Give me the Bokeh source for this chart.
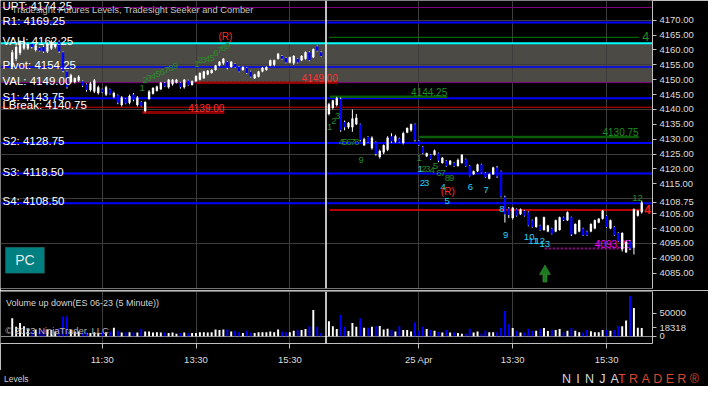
from bokeh.plotting import figure
from bokeh.models import (Range1d, FixedTicker, PrintfTickFormatter, Span, BoxAnnotation,
                          ColumnDataSource, Div)
from bokeh.layouts import column
from bokeh.embed import file_html
from bokeh.resources import INLINE
from bokeh.core.properties import value

FONT = "Liberation Sans"
BG = "#000000"
UP = "#ffffff"
DOWN = "#0000ff"

# ---------------- data ----------------
# day 1 bars (bar slots 1..80), day 2 bars (bar slots 82..162) of ES 06-23, 5 minute
d1_open = [4154.25, 4157.0, 4159.0, 4160.5, 4160.5, 4162.0, 4160.0, 4160.75, 4161.0, 4159.5,
           4160.5, 4161.0, 4162.75, 4159.25, 4152.75, 4149.25, 4149.25, 4149.75, 4149.5, 4148.5,
           4146.5, 4146.0, 4145.5, 4146.75, 4145.0, 4146.75, 4144.25, 4144.75, 4141.5, 4143.5,
           4142.25, 4145.0, 4141.5, 4142.5, 4139.5, 4143.5, 4145.25, 4146.25, 4146.75, 4149.0,
           4147.5, 4148.5, 4149.0, 4149.0, 4147.5, 4149.75, 4148.25, 4149.5, 4150.0, 4150.5,
           4151.75, 4152.25, 4153.25, 4154.75, 4155.5, 4156.0, 4154.25, 4155.25, 4154.25, 4153.25,
           4154.0, 4152.75, 4150.5, 4151.0, 4152.75, 4153.25, 4154.75, 4155.0, 4157.0, 4158.0,
           4157.25, 4155.75, 4155.5, 4157.0, 4156.5, 4157.0, 4159.25, 4157.5, 4161.25, 4159.25]
d1_high = [4160.0, 4161.5, 4163.25, 4163.25, 4162.5, 4162.5, 4162.0, 4161.0, 4161.5, 4162.5,
           4163.25, 4162.5, 4163.25, 4159.5, 4153.0, 4152.0, 4150.75, 4151.5, 4149.75, 4148.75,
           4149.25, 4150.25, 4148.0, 4147.0, 4148.0, 4147.0, 4146.0, 4145.0, 4144.5, 4143.75,
           4145.0, 4145.5, 4144.5, 4142.75, 4142.75, 4146.5, 4147.5, 4148.0, 4149.25, 4149.25,
           4150.25, 4150.25, 4150.25, 4149.25, 4150.25, 4150.0, 4149.75, 4151.5, 4152.5, 4153.0,
           4153.25, 4153.5, 4155.0, 4156.25, 4157.25, 4156.25, 4156.25, 4155.5, 4154.5, 4154.5,
           4154.25, 4153.0, 4152.0, 4153.0, 4154.25, 4154.5, 4156.75, 4156.75, 4159.0, 4158.25,
           4157.5, 4157.75, 4158.25, 4157.25, 4158.25, 4159.5, 4159.5, 4160.5, 4161.5, 4159.5]
d1_low = [4153.5, 4156.25, 4158.25, 4160.0, 4160.0, 4160.5, 4159.5, 4159.5, 4159.0, 4159.0,
          4160.0, 4160.5, 4159.0, 4152.5, 4147.0, 4148.75, 4148.75, 4149.25, 4147.5, 4146.0,
          4146.0, 4145.5, 4145.0, 4145.5, 4144.5, 4145.0, 4143.75, 4141.75, 4141.0, 4141.75,
          4141.75, 4142.75, 4141.0, 4141.0, 4139.0, 4143.25, 4145.0, 4146.0, 4146.5, 4147.5,
          4147.0, 4148.0, 4148.75, 4147.0, 4147.0, 4148.0, 4148.0, 4149.25, 4149.75, 4150.25,
          4151.5, 4152.0, 4153.0, 4154.5, 4155.0, 4153.5, 4154.0, 4154.0, 4152.5, 4153.0,
          4152.0, 4150.75, 4150.25, 4150.75, 4152.5, 4153.0, 4154.5, 4154.5, 4156.75, 4156.75,
          4155.5, 4155.5, 4155.0, 4155.5, 4156.25, 4156.75, 4156.25, 4157.25, 4159.5, 4157.75]
d1_close = [4159.25, 4161.0, 4162.5, 4162.75, 4162.0, 4161.0, 4161.5, 4159.75, 4159.5, 4162.0,
            4162.75, 4162.0, 4159.5, 4153.0, 4147.5, 4151.5, 4150.5, 4151.0, 4148.0, 4146.5,
            4148.75, 4149.75, 4147.5, 4145.75, 4147.5, 4145.25, 4145.5, 4142.25, 4144.0, 4142.0,
            4144.5, 4143.25, 4144.0, 4141.25, 4142.5, 4146.0, 4147.25, 4147.75, 4149.0, 4147.75,
            4150.0, 4150.0, 4150.0, 4147.5, 4150.0, 4148.25, 4149.5, 4151.25, 4152.25, 4152.75,
            4153.0, 4153.25, 4154.75, 4156.0, 4157.0, 4154.0, 4156.0, 4154.25, 4152.75, 4154.25,
            4152.25, 4151.0, 4151.75, 4152.75, 4154.0, 4154.25, 4156.5, 4156.5, 4158.75, 4157.0,
            4155.75, 4157.5, 4158.0, 4155.75, 4158.0, 4159.25, 4156.5, 4160.25, 4159.75, 4158.0]
d1_volume = [39100, 20600, 28800, 22000, 15100, 10300, 15000, 10300, 15000, 15000,
             13700, 10300, 17000, 43000, 43000, 13700, 10300, 10300, 8200, 8200,
             6900, 8900, 6900, 12000, 8900, 10300, 18500, 12000, 8200, 8900,
             8900, 8200, 8200, 15800, 10300, 10300, 8200, 8900, 8200, 8200,
             6900, 8200, 5500, 6900, 8200, 6900, 6900, 6900, 8900, 8900,
             8200, 8900, 15000, 13700, 15000, 15000, 10300, 12000, 8900, 6900,
             12000, 8200, 6900, 8900, 8900, 8900, 10300, 8900, 15000, 10300,
             8900, 8900, 12000, 13700, 13700, 15800, 22000, 57600, 20600, 6900]

d2_open = [4138.5, 4140.5, 4141.5, 4143.5, 4135.75, 4134.0, 4134.0, 4135.0, 4135.0, 4128.0,
           4130.75, 4127.0, 4129.0, 4124.0, 4125.5, 4126.5, 4131.0, 4129.25, 4130.25, 4128.75,
           4132.25, 4133.0, 4135.0, 4129.5, 4127.5, 4124.25, 4124.75, 4124.75, 4125.25, 4122.0,
           4122.75, 4121.5, 4122.0, 4121.0, 4122.0, 4123.25, 4121.0, 4118.25, 4119.25, 4121.5,
           4118.75, 4116.75, 4118.25, 4120.5, 4119.25, 4110.5, 4106.75, 4103.5, 4106.5, 4104.75,
           4106.0, 4105.5, 4102.75, 4100.5, 4101.0, 4099.5, 4099.0, 4100.0, 4099.0, 4099.5,
           4103.75, 4102.75, 4103.75, 4098.25, 4099.0, 4100.0, 4099.0, 4099.0, 4100.0, 4102.0,
           4103.25, 4104.25, 4100.0, 4100.5, 4098.5, 4093.0, 4092.0, 4095.75, 4093.5, 4104.25,
           4105.5]
d2_high = [4142.25, 4143.25, 4144.25, 4144.0, 4136.25, 4135.75, 4140.0, 4138.5, 4135.25, 4130.5,
           4131.0, 4131.0, 4129.25, 4126.5, 4128.25, 4131.0, 4132.0, 4131.5, 4130.5, 4132.5,
           4134.0, 4135.25, 4135.25, 4129.75, 4127.75, 4125.5, 4125.0, 4126.5, 4125.5, 4124.0,
           4123.0, 4123.0, 4122.25, 4123.5, 4125.0, 4123.5, 4121.25, 4119.5, 4121.75, 4121.75,
           4119.0, 4118.5, 4120.75, 4121.0, 4119.5, 4111.0, 4107.25, 4107.25, 4106.75, 4106.75,
           4106.25, 4105.75, 4103.0, 4104.0, 4101.25, 4104.0, 4101.25, 4100.25, 4103.0, 4104.0,
           4104.0, 4105.75, 4104.0, 4101.75, 4103.0, 4100.25, 4099.25, 4101.75, 4103.0, 4103.5,
           4106.25, 4104.5, 4103.0, 4100.75, 4098.75, 4098.75, 4096.0, 4096.0, 4106.75, 4106.25,
           4109.25]
d2_low = [4138.0, 4140.0, 4141.0, 4132.5, 4133.0, 4133.5, 4132.5, 4134.75, 4129.25, 4127.75,
          4128.75, 4126.5, 4124.5, 4123.5, 4125.0, 4126.0, 4128.75, 4128.75, 4128.75, 4128.25,
          4132.0, 4132.5, 4129.25, 4127.75, 4125.0, 4124.0, 4123.0, 4124.5, 4122.25, 4121.75,
          4120.75, 4121.25, 4120.75, 4120.75, 4121.75, 4120.75, 4117.5, 4118.0, 4119.0, 4118.5,
          4117.0, 4116.5, 4118.0, 4117.0, 4110.5, 4102.0, 4103.5, 4103.0, 4104.0, 4104.5,
          4104.0, 4100.75, 4100.25, 4100.25, 4099.25, 4099.25, 4098.75, 4098.0, 4098.75, 4099.25,
          4102.5, 4102.5, 4097.5, 4098.0, 4098.75, 4097.5, 4097.5, 4098.75, 4099.75, 4101.75,
          4103.0, 4100.25, 4099.75, 4097.5, 4095.5, 4092.25, 4091.75, 4092.75, 4091.25, 4104.0,
          4105.0]
d2_close = [4141.75, 4143.0, 4143.75, 4133.0, 4134.0, 4135.5, 4137.0, 4137.25, 4129.75, 4130.0,
            4129.0, 4130.5, 4125.0, 4126.0, 4128.0, 4130.5, 4129.25, 4131.0, 4129.0, 4132.0,
            4133.75, 4135.0, 4129.75, 4128.0, 4125.25, 4125.25, 4123.25, 4126.25, 4122.75, 4123.75,
            4121.0, 4122.75, 4121.0, 4123.0, 4124.75, 4121.0, 4117.75, 4119.25, 4121.5, 4118.75,
            4117.25, 4118.25, 4120.5, 4117.5, 4110.75, 4104.75, 4104.5, 4107.0, 4104.25, 4106.5,
            4104.25, 4101.0, 4100.5, 4103.75, 4099.5, 4103.75, 4101.0, 4098.25, 4102.75, 4103.75,
            4102.75, 4105.5, 4098.0, 4101.5, 4102.75, 4097.75, 4097.75, 4101.5, 4102.75, 4103.25,
            4106.0, 4100.5, 4102.75, 4097.75, 4095.75, 4098.5, 4095.5, 4093.25, 4106.5, 4106.0,
            4108.75]
d2_volume = [33000, 22000, 15800, 46600, 20600, 11700, 28800, 20600, 39100, 18500,
             18500, 20600, 22000, 22600, 15000, 16500, 13700, 10300, 22000, 13700,
             13700, 10300, 30200, 12000, 20600, 15800, 13700, 12000, 9600, 8200,
             13700, 8200, 8900, 6900, 5500, 5500, 16500, 8200, 10300, 5500,
             12000, 8900, 8900, 8900, 17800, 54900, 26100, 17800, 12000, 8200,
             8200, 16500, 12000, 12000, 16500, 17800, 11700, 13700, 13700, 15800,
             8900, 12000, 17800, 12000, 8900, 8200, 13700, 10900, 8900, 8900,
             13700, 13700, 12000, 13700, 22000, 22000, 34300, 87800, 61700, 18500,
             18318]

d1_slots = list(range(1, 81))
d2_slots = list(range(82, 163))

# time axis
time_ticks = [24, 48, 72, 105, 129, 153]
time_labels = ["11:30", "13:30", "15:30", "25 Apr", "13:30", "15:30"]
session_break = 81.25

# price axis
price_ticks = [4085, 4090, 4095, 4100, 4105, 4110, 4115, 4120, 4125, 4130,
               4135, 4140, 4145, 4150, 4155, 4160, 4165, 4170]
price_grid = [4095, 4110, 4125, 4140, 4155, 4170]
volume_ticks = [0, 50000]

# Tradesight futures levels
level_names = ["UPT", "R1", "VAH", "Pivot", "VAL", "S1", "LBreak", "S2", "S3", "S4"]
level_prices = [4174.25, 4169.25, 4162.25, 4154.25, 4149.00, 4143.75, 4140.75, 4128.75, 4118.50, 4108.50]
level_colors = ["#800080", "#0000ff", "#00ffff", "#0000ff", "#800080", "#0000ff", "#d00000",
                "#0000ff", "#0000ff", "#0000ff"]
level_widths = [1, 2, 2, 1.5, 1, 2, 1, 2, 2, 2]
value_area = (4149.00, 4162.25)

# short level segments (start slot, end slot, price)
seg_x0 = [82.0, 48.0, 34.25, 82.2, 105.1, 82.2, 137.2]
seg_x1 = [161.2, 84.25, 55.25, 112.25, 161.2, 162.5, 159.25]
seg_y = [4164.25, 4149.00, 4139.00, 4144.25, 4130.75, 4106.25, 4093.25]
seg_color = ["#008000", "#9a0000", "#8b0000", "#0b5d0b", "#0b5d0b", "#ff0000", "#a000a0"]
seg_width = [1, 2.5, 3, 2.5, 2.5, 1.5, 2]
seg_dash = ["solid", "3 1", "solid", "solid", "solid", "solid", "2 2"]
seg_label_color = [None, "#ff3030", "#ff3030", "#1f8f1f", "#1f8f1f", None, "#ff00ff"]

# Seeker counts (green)
seeker_k = [34.25, 35.0, 36.0, 37.1, 38.25, 39.4, 40.5, 41.6, 42.75,
            48.25, 49.1, 50.0, 51.0, 52.1, 53.1, 54.1, 55.1, 56.1,
            82.2, 83.25, 84.25, 85.1, 86.1, 87.1, 88.1, 89.1, 90.25,
            105.1, 106.3, 107.3, 108.4, 109.25, 110.1, 111.2, 112.3, 113.4,
            160.9]
seeker_p = [4147.1, 4149.84, 4150.48, 4151.13, 4151.77, 4152.74, 4153.39, 4154.03, 4154.68,
            4155.32, 4156.45, 4156.77, 4157.1, 4157.26, 4158.87, 4159.84, 4160.65, 4161.45,
            4134.03, 4136.13, 4137.9, 4128.97, 4128.97, 4128.97, 4128.97, 4128.97, 4123.16,
            4123.71, 4119.84, 4119.84, 4119.52, 4120.97, 4118.55, 4118.55, 4116.94, 4116.94,
            4110.16]
seeker_t = ["1", "2", "3", "4", "5", "6", "7", "8", "9",
            "1", "2", "3", "4", "5", "6", "7", "8", "9",
            "1", "2", "3", "4", "5", "6", "7", "8", "9",
            "1", "2", "3", "4", "5", "6", "7", "8", "9",
            "12"]

# Comber counts (cyan)
comber_k = [105.3, 105.9, 107.0, 111.2, 112.2, 118.2, 122.2, 126.2, 127.2, 133.2, 134.25, 135.9, 137.2]
comber_p = [4119.84, 4115.4, 4115.3, 4113.94, 4109.1, 4114.03, 4112.97, 4106.52, 4097.81,
            4097.03, 4095.74, 4095.74, 4094.68]
comber_t = ["1", "2", "3", "4", "5", "6", "7", "8", "9", "10", "11", "12", "13"]

# reversal marks
rev_k = [55.5, 112.4]
rev_p = [4164.52, 4112.42]

# end-of-line count marks
green_mark = (163.0, 4164.35, "4")
red_mark = (163.5, 4106.3, "4")
arrow_slot = 137.25
arrow_head = 4085.6
arrow_tail = (4082.0, 4084.5)

# ---------------- derived ----------------
slots = d1_slots + d2_slots
opens = d1_open + d2_open
highs = d1_high + d2_high
lows = d1_low + d2_low
closes = d1_close + d2_close
vols = d1_volume + d2_volume
colors = [UP if c >= o else DOWN for o, c in zip(opens, closes)]
src = ColumnDataSource(dict(
    x=slots, h=highs, l=lows,
    top=[max(o, c) for o, c in zip(opens, closes)],
    bottom=[min(o, c) for o, c in zip(opens, closes)],
    color=colors, vol=vols, zero=[0] * len(vols)))
last_close = closes[-1]
last_vol = vols[-1]

X_RANGE = Range1d(-2, 164.75)
W = 708
FRAME_W = 652
RIGHT = W - FRAME_W
MAIN_H = 290
MAIN_FRAME_H = 288
VOL_H = 80
VOL_FRAME_H = 52
FOOT_H = 16
P_LO, P_HI = 4079.84, 4176.61
V_LO, V_HI = -15756, 97689

GRID = "#3c3c3c"
AXIS = "#c0c0c0"
LBL = "#dcdcdc"


def style_axis(ax, size="9.5px"):
    ax.axis_line_color = AXIS
    ax.major_tick_line_color = AXIS
    ax.major_tick_out = 4
    ax.major_tick_in = 0
    ax.minor_tick_line_color = None
    ax.major_label_text_color = LBL
    ax.major_label_text_font = FONT
    ax.major_label_text_font_size = size
    ax.major_label_standoff = 3


# ---------------- price panel ----------------
pA = figure(width=W, height=MAIN_H, x_range=X_RANGE, y_range=Range1d(P_LO, P_HI),
            output_backend="svg", toolbar_location=None, x_axis_location=None,
            y_axis_location="right", background_fill_color=BG, border_fill_color=BG,
            outline_line_color=None, min_border_left=0, min_border_top=0,
            min_border_bottom=MAIN_H - MAIN_FRAME_H, min_border_right=RIGHT)
axis_prices = [t for t in price_ticks if abs(t - last_close) > 2] + [last_close]
pA.yaxis.ticker = FixedTicker(ticks=axis_prices)
pA.yaxis.formatter = PrintfTickFormatter(format="%.2f")
style_axis(pA.yaxis[0])
pA.ygrid.ticker = FixedTicker(ticks=price_grid)
pA.xgrid.ticker = FixedTicker(ticks=time_ticks)
for g in (pA.xgrid[0], pA.ygrid[0]):
    g.grid_line_color = GRID
    g.grid_line_width = 1

pA.add_layout(BoxAnnotation(bottom=value_area[0], top=value_area[1], fill_color="#4c4a45",
                            fill_alpha=1.0, line_color=None, level="image"))
for pr, c, w in zip(level_prices, level_colors, level_widths):
    pA.add_layout(Span(location=pr, dimension="width", line_color=c, line_width=w, level="underlay"))
pA.add_layout(Span(location=session_break, dimension="height", line_color="#ffffff", line_width=1.5))
pA.add_layout(Span(location=P_LO, dimension="width", line_color="#a8a8a8", line_width=1))

# short segments and their labels
for i in range(len(seg_y)):
    pA.segment(x0=[seg_x0[i]], y0=[seg_y[i]], x1=[seg_x1[i]], y1=[seg_y[i]],
               line_color=seg_color[i], line_width=seg_width[i], line_dash=seg_dash[i])
    if seg_label_color[i]:
        pA.text(x=[seg_x1[i]], y=[seg_y[i] + 1.6], text=["%.2f" % seg_y[i]],
                text_color=seg_label_color[i], text_font=value(FONT), text_font_size="10px",
                text_align="right", text_baseline="middle")

# candles
pA.segment(x0="x", y0="h", x1="x", y1="l", source=src, line_color="#ffffff", line_width=1)
pA.vbar(x="x", top="top", bottom="bottom", width=0.6, source=src, fill_color="color",
        line_color=None)

# level labels
lbl_x = X_RANGE.start + 0.5
pA.text(x=[lbl_x] * len(level_names), y=[p + 0.6 for p in level_prices],
        text=["%s: %.2f" % (n, p) for n, p in zip(level_names, level_prices)],
        text_color="#ffffff", text_font=value(FONT), text_font_size="11.5px",
        text_align="left", text_baseline="alphabetic")
pA.text(x=[X_RANGE.start + 2.9], y=[4173.4],
        text=["Tradesight Futures Levels, Tradesight Seeker and Comber"],
        text_color="#c4c4c4", text_font=value(FONT), text_font_size="9.3px",
        text_align="left", text_baseline="middle")

# counts
pA.text(x=seeker_k, y=seeker_p, text=seeker_t, text_color="#2a8a2a", text_font=value(FONT),
        text_font_size="9.5px", text_align="center", text_baseline="middle")
pA.text(x=comber_k, y=comber_p, text=comber_t, text_color="#2ad2f8", text_font=value(FONT),
        text_font_size="9.5px", text_align="center", text_baseline="middle")
pA.text(x=rev_k, y=rev_p, text=["(R)"] * len(rev_k), text_color="#ff2a2a", text_font=value(FONT),
        text_font_size="10px", text_align="center", text_baseline="middle")
pA.text(x=[green_mark[0]], y=[green_mark[1]], text=[green_mark[2]], text_color="#1f8f1f",
        text_font=value(FONT), text_font_size="12.5px", text_align="center", text_baseline="middle")
pA.text(x=[red_mark[0]], y=[red_mark[1]], text=[red_mark[2]], text_color="#ff1a1a",
        text_font=value(FONT), text_font_size="12px", text_font_style="bold",
        text_align="center", text_baseline="middle")

# green arrow
pA.vbar(x=[arrow_slot], bottom=[arrow_tail[0]], top=[arrow_tail[1]], width=1.05,
        fill_color="#1e7a1e", line_color="#3c9a3c", line_width=0.5)
pA.scatter(x=[arrow_slot], y=[arrow_head], marker="triangle", size=11,
           fill_color="#1e7a1e", line_color="#3c9a3c", line_width=0.5)

# PC button
pA.add_layout(BoxAnnotation(left=X_RANGE.start + 1.25, right=X_RANGE.start + 11.25,
                            bottom=4085.0, top=4093.7, fill_color="#008080", fill_alpha=1.0,
                            line_color="#5a5a5a", line_width=1, level="underlay"))
pA.text(x=[X_RANGE.start + 6.25], y=[4089.35], text=["PC"], text_color="#e8e8e8",
        text_font=value(FONT), text_font_size="14px", text_align="center", text_baseline="middle")

# ---------------- volume panel ----------------
pB = figure(width=W, height=VOL_H, x_range=X_RANGE, y_range=Range1d(V_LO, V_HI),
            output_backend="svg", toolbar_location=None, y_axis_location="right",
            background_fill_color=BG, border_fill_color=BG, outline_line_color=None,
            min_border_left=0, min_border_top=1,
            min_border_bottom=VOL_H - VOL_FRAME_H - 1, min_border_right=RIGHT)
pB.xaxis.ticker = FixedTicker(ticks=time_ticks)
pB.xaxis.major_label_overrides = {t: s for t, s in zip(time_ticks, time_labels)}
style_axis(pB.xaxis[0])
pB.xaxis.major_tick_out = 5
pB.xaxis.major_label_standoff = 5
pB.yaxis.ticker = FixedTicker(ticks=volume_ticks + [last_vol])
pB.yaxis.formatter = PrintfTickFormatter(format="%d")
style_axis(pB.yaxis[0])
pB.xgrid.ticker = FixedTicker(ticks=time_ticks)
pB.xgrid.grid_line_color = GRID
pB.ygrid.ticker = FixedTicker(ticks=[0])
pB.ygrid.grid_line_color = "#8c8c8c"
pB.add_layout(Span(location=session_break, dimension="height", line_color="#ffffff", line_width=1.5))
pB.add_layout(Span(location=V_HI, dimension="width", line_color="#a8a8a8", line_width=1))

pB.vbar(x="x", top="vol", bottom="zero", width=0.5, source=src, fill_color="color",
        line_color=None)
pB.text(x=[X_RANGE.start + 1.4], y=[73100], text=["Volume up down(ES 06-23 (5 Minute))"],
        text_color="#d4d4d4", text_font=value(FONT), text_font_size="9px",
        text_align="left", text_baseline="middle")
pB.text(x=[X_RANGE.start + 1.2], y=[13650], text=["\u00a9 2023 NinjaTrader, LLC"],
        text_color="#b4b4b4", text_font=value(FONT), text_font_size="9.4px",
        text_align="left", text_baseline="middle")

# ---------------- footer strip ----------------
footer = Div(
    width=W, height=FOOT_H,
    text=('<div style="position:relative;width:%dpx;height:%dpx;background:#000;'
          'font-family:\'Liberation Sans\',Arial,sans-serif;overflow:hidden;">'
          '<span style="position:absolute;left:4px;top:3px;font-size:8.5px;color:#d0d0d0;">Levels</span>'
          '<span style="position:absolute;left:562px;top:1px;font-size:12.5px;letter-spacing:5.2px;'
          'color:#d8d8d8;">NINJA</span>'
          '<span style="position:absolute;left:618px;top:1px;font-size:12.5px;letter-spacing:3.4px;'
          'color:#d9472f;">TRADER&reg;</span></div>') % (W, FOOT_H),
    styles={"margin": "0", "padding": "0", "background-color": "#000000"})

layout = column(pA, pB, footer, spacing=0)
open("out.html", "w").write(file_html(layout, INLINE))
